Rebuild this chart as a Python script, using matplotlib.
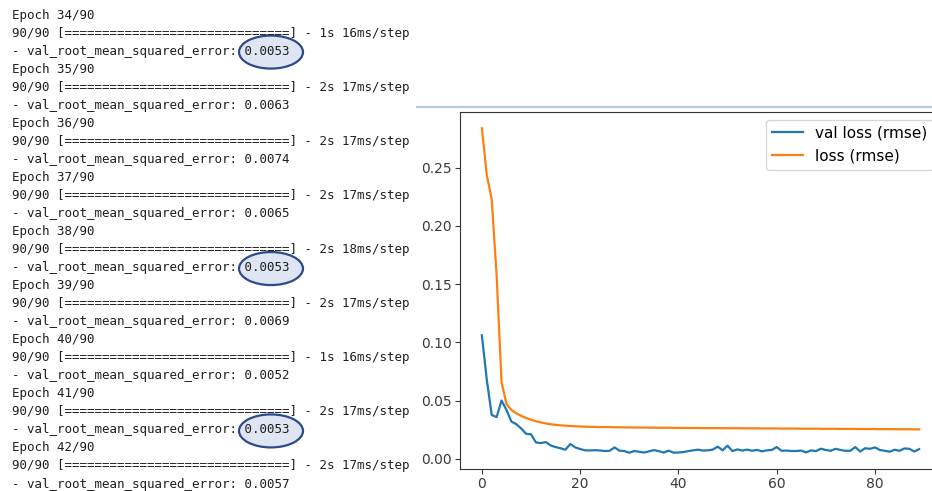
import matplotlib.pyplot as plt
import numpy as np
from matplotlib.patches import Ellipse

# training log shown on the left
log_epochs = [34, 35, 36, 37, 38, 39, 40, 41, 42]
log_secs = [1, 2, 2, 2, 2, 2, 1, 2, 2]
log_ms = [16, 17, 17, 17, 18, 17, 16, 17, 17]
log_vals = ["0.0053", "0.0063", "0.0074", "0.0065", "0.0053",
            "0.0069", "0.0052", "0.0053", "0.0057"]
circled = [34, 38, 41]

# curves on the right
val_rmse = [0.106, 0.068, 0.0377, 0.0357, 0.050, 0.042, 0.032, 0.0297, 0.026, 0.0214,
            0.021, 0.014, 0.0134, 0.0143, 0.0114, 0.010, 0.009, 0.0077, 0.0126, 0.0097,
            0.0083, 0.0072, 0.0071, 0.0073, 0.0071, 0.0066, 0.0068, 0.0097, 0.0069, 0.0066,
            0.0051, 0.0066, 0.0060, 0.0053, 0.0063, 0.0074, 0.0065, 0.0053, 0.0069, 0.0052,
            0.0053, 0.0057, 0.0065, 0.0072, 0.0078, 0.0070, 0.0072, 0.0078, 0.0104, 0.0072,
            0.0112, 0.0065, 0.0080, 0.0070, 0.0078, 0.0068, 0.0076, 0.0063, 0.0072, 0.0075,
            0.0100, 0.0068, 0.0070, 0.0066, 0.0066, 0.0070, 0.0054, 0.0072, 0.0065, 0.0086,
            0.0075, 0.0068, 0.0085, 0.0075, 0.0068, 0.0068, 0.0100, 0.0062, 0.0090, 0.0085,
            0.0097, 0.0075, 0.0068, 0.0060, 0.0077, 0.0068, 0.0088, 0.0085, 0.0062, 0.0082]
loss_rmse = [0.284, 0.244, 0.223, 0.158, 0.066, 0.047, 0.042, 0.039, 0.0368, 0.0350,
             0.0335, 0.0322, 0.0312, 0.0303, 0.0296, 0.0291, 0.0287, 0.0284, 0.0281, 0.0279,
             0.0277, 0.0275, 0.0274, 0.0273, 0.0272, 0.0272, 0.0271, 0.0270, 0.0270, 0.0269,
             0.0269, 0.0268, 0.0268, 0.0268, 0.0267, 0.0267, 0.0266, 0.0266, 0.0266, 0.0265,
             0.0265, 0.0265, 0.0264, 0.0264, 0.0264, 0.0263, 0.0263, 0.0263, 0.0263, 0.0262,
             0.0262, 0.0262, 0.0262, 0.0261, 0.0261, 0.0261, 0.0261, 0.0260, 0.0260, 0.0260,
             0.0260, 0.0259, 0.0259, 0.0259, 0.0259, 0.0258, 0.0258, 0.0258, 0.0258, 0.0257,
             0.0257, 0.0257, 0.0257, 0.0256, 0.0256, 0.0256, 0.0256, 0.0255, 0.0255, 0.0255,
             0.0255, 0.0254, 0.0254, 0.0254, 0.0254, 0.0253, 0.0253, 0.0253, 0.0252, 0.0252]

W, H = 932, 491
fig = plt.figure(figsize=(W / 100, H / 100), dpi=100)

# overlay in pixel units for the log text
tax = fig.add_axes([0, 0, 1, 1])
tax.set_xlim(0, W)
tax.set_ylim(H, 0)
tax.axis("off")

lines = []
for ep, s, ms, v in zip(log_epochs, log_secs, log_ms, log_vals):
    lines.append(f"Epoch {ep}/90")
    lines.append("90/90 [" + "=" * 30 + f"] - {s}s {ms}ms/step")
    lines.append(f"- val_root_mean_squared_error: {v}")

y0, dy = 15, 18.04
for i, txt in enumerate(lines):
    tax.text(12, y0 + i * dy, txt, family="DejaVu Sans Mono", fontsize=9,
             color="#1e1e1e", va="center", ha="left", zorder=3)

for ep in circled:
    i = log_epochs.index(ep) * 3 + 2
    tax.add_patch(Ellipse((271, y0 + i * dy + 1), 64, 33, facecolor="#dfe5f2",
                          edgecolor="#2d4a8c", lw=1.6, zorder=2))

tax.plot([417, W], [106.7, 106.7], color="#b9c9e3", lw=1.6)

# loss plot, its right part runs off the picture
ax = fig.add_axes([460 / W, 22 / H, 481 / W, 357 / H])
epochs = np.arange(len(val_rmse))
ax.plot(epochs, val_rmse, color="#1f77b4", lw=1.6, label="val loss (rmse)")
ax.plot(epochs, loss_rmse, color="#ff7f0e", lw=1.6, label="loss (rmse)")
ax.set_yticks([0.0, 0.05, 0.10, 0.15, 0.20, 0.25])
ax.set_xticks([0, 20, 40, 60, 80])
ax.tick_params(labelsize=10, colors="#3a3a3a", pad=2.5)
for sp in ax.spines.values():
    sp.set_color("#333333")
ax.legend(loc="upper right", fontsize=11)

fig.savefig("out.png", dpi=100)
